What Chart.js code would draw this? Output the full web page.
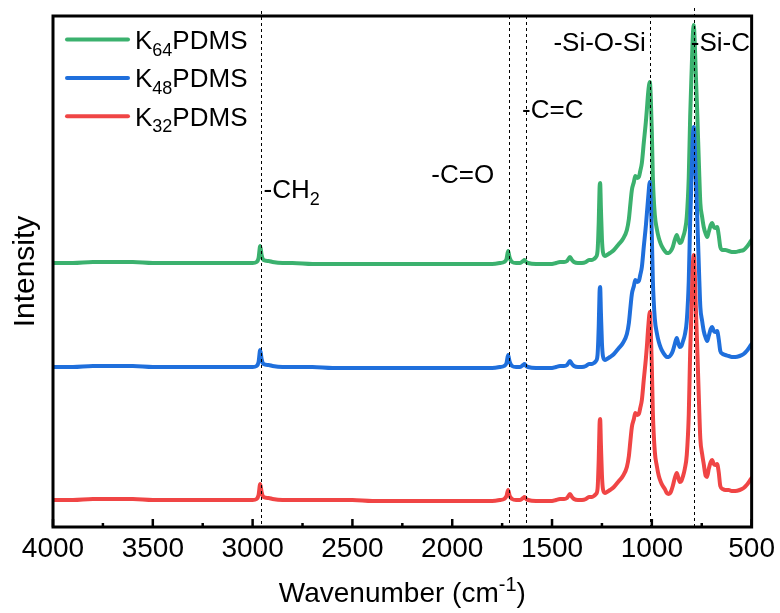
<!DOCTYPE html>
<html><head><meta charset="utf-8">
<script src="https://cdn.jsdelivr.net/npm/chart.js@4.4.1/dist/chart.umd.min.js"></script>
<style>html,body{margin:0;padding:0;background:#fff}#wrap{width:780px;height:613px}</style>
</head><body><div id="wrap"><canvas id="c" width="780" height="613"></canvas></div>
<script>
// ---- data (intensity in arbitrary units, offset spectra) ----
const wavenumbers = [
  4000,3900,3800,3700,3600,3500,3400,3300,3200,3100,
  3000,2980,2970,2962,2955,2945,2920,2900,2850,2800,
  2700,2600,2500,2400,2300,2200,2100,2000,1900,1800,
  1760,1740,1728,1720,1712,1700,1680,1660,1645,1638,
  1630,1620,1580,1550,1520,1500,1480,1460,1440,1425,
  1410,1400,1390,1370,1350,1330,1315,1300,1290,1280,
  1272,1266,1262,1259,1255,1250,1245,1235,1225,1210,
  1190,1165,1145,1125,1115,1107,1100,1090,1083,1072,
  1065,1058,1050,1040,1030,1025,1018,1010,1005,1000,
  995,985,975,965,955,945,935,925,915,905,
  895,885,875,868,860,852,845,835,825,815,
  808,800,795,790,785,780,773,762,757,748,
  740,730,723,715,705,698,690,682,673,665,
  657,645,632,615,600,582,560,540,525,507,
  500];
const k64 = [
  264,264,265,265,265,264,264,264,264,264,
  264,265,269,281,272,267,266,265,264,264,
  263,263,263,263,263,263,263,263,263,263,
  264,265,268,276,269,265,264,264,266,267,
  265,264,263,263,263,263,264,265,265,266,
  270,267,265,264,264,265,267,267,268,270,
  276,305,338,344,318,288,275,271,272,274,
  277,283,288,297,308,324,337,345,351,349,
  350,356,364,385,405,417,435,445,428,395,
  350,312,298,289,283,279,276,274,274,276,
  280,287,292,288,284,285,289,296,310,350,
  410,460,490,502,485,455,417,350,324,310,
  300,293,290,295,302,304,300,299,300,292,
  280,277,277,276,275,275,276,277,280,285,
  287];
const k48 = [
  160,160,161,161,161,160,160,160,160,160,
  160,161,165,177,168,163,162,161,160,160,
  160,159,159,159,159,159,159,159,159,159,
  160,161,164,172,165,161,160,160,162,163,
  161,160,159,159,159,159,160,161,161,162,
  166,163,161,160,160,161,163,163,164,166,
  172,201,234,240,214,184,171,167,168,170,
  173,179,184,193,204,220,233,241,247,245,
  246,252,260,281,301,313,330,345,326,292,
  247,208,194,185,179,175,172,170,170,172,
  176,183,189,184,180,181,185,192,206,246,
  306,356,388,400,383,351,313,246,220,206,
  196,189,186,191,198,200,196,195,196,188,
  176,173,172,171,170,170,171,173,176,181,
  183];
const k32 = [
  27,27,28,28,28,27,27,27,27,27,
  27,28,32,43,35,30,29,28,27,27,
  27,27,27,26,26,26,26,26,26,26,
  27,28,31,37,31,28,27,27,29,30,
  28,27,26,26,26,26,27,28,28,29,
  33,30,28,27,27,28,30,30,31,33,
  38,68,102,108,82,52,38,34,35,37,
  40,46,51,60,71,87,100,108,114,112,
  113,119,127,148,168,180,200,215,196,160,
  115,75,61,51,45,41,38,34,33,35,
  41,49,54,50,45,46,50,58,72,112,
  175,225,260,272,255,222,182,114,88,73,
  63,51,50,58,65,67,63,62,63,55,
  41,38,37,37,36,36,37,39,42,47,
  49];
const seriesNames = ['K64PDMS', 'K48PDMS', 'K32PDMS'];
const seriesLegend = ['K_{64}PDMS', 'K_{48}PDMS', 'K_{32}PDMS'];
const xTickValues = [4000, 3500, 3000, 2500, 2000, 1500, 1000, 500];
const xMinorTicks = [3750, 3250, 2750, 2250, 1750, 1250, 750];
const bandPositions = [2960, 1715, 1630, 1010, 790];
const bandLabels = ['-CH_{2}', '-C=O', '-C=C', '-Si-O-Si', '-Si-C'];
const xTitle = 'Wavenumber (cm^{-1})';
const yTitle = 'Intensity';

// ---- style ----
const FAM = "'Liberation Sans', Arial, Helvetica, sans-serif";
const COLORS = { green: '#3bb16e', blue: '#1f6fdc', red: '#f04545' };

function toXY(vals) { return wavenumbers.map((w, i) => ({ x: w, y: vals[i] })); }

function parseRich(s) {
  const parts = [];
  const re = /_\{([^}]*)\}|\^\{([^}]*)\}|([^_^]+)/g;
  let m;
  while ((m = re.exec(s))) {
    if (m[1] !== undefined) parts.push({ t: m[1], sub: true });
    else if (m[2] !== undefined) parts.push({ t: m[2], sup: true });
    else parts.push({ t: m[3] });
  }
  return parts;
}
function drawRich(ctx, s, x, y, align, size) {
  const parts = parseRich(s);
  const small = Math.round(size * 0.7);
  const widths = parts.map(p => { ctx.font = `${(p.sub || p.sup) ? small : size}px ${FAM}`; return ctx.measureText(p.t).width; });
  const total = widths.reduce((a, b) => a + b, 0);
  let cx = align === 'center' ? x - total / 2 : align === 'right' ? x - total : x;
  ctx.textAlign = 'left';
  ctx.textBaseline = 'alphabetic';
  parts.forEach((p, i) => {
    ctx.font = `${(p.sub || p.sup) ? small : size}px ${FAM}`;
    const dy = p.sub ? size * 0.25 : p.sup ? -size * 0.4 : 0;
    ctx.fillText(p.t, cx, y + dy);
    cx += widths[i];
  });
}

// label layout: [anchor side, dx from line, baseline y]
const bandLayout = [
  { align: 'left', dx: 3, y: 198, ext: 5 },
  { align: 'right', dx: -15, y: 183, ext: 0 },
  { align: 'left', dx: -4, y: 118, ext: 0 },
  { align: 'right', dx: -4, y: 51, ext: 1 },
  { align: 'left', dx: -3, y: 51, ext: 8 }
];

const decor = {
  id: 'decor',
  afterDatasetsDraw(chart) {
    const ctx = chart.ctx, a = chart.chartArea, xs = chart.scales.x;
    ctx.save();
    // dashed band lines
    ctx.strokeStyle = '#000'; ctx.lineWidth = 1; ctx.setLineDash([3, 3]);
    bandPositions.forEach((w, i) => {
      const x = Math.round(xs.getPixelForValue(w)) + 0.5;
      ctx.beginPath(); ctx.moveTo(x, a.top - bandLayout[i].ext); ctx.lineTo(x, a.bottom); ctx.stroke();
    });
    ctx.setLineDash([]);
    // band labels (clipped to plot area)
    ctx.save();
    ctx.beginPath(); ctx.rect(a.left, 0, a.right - a.left, a.bottom); ctx.clip();
    ctx.fillStyle = '#000';
    bandPositions.forEach((w, i) => {
      const L = bandLayout[i];
      drawRich(ctx, bandLabels[i], xs.getPixelForValue(w) + L.dx, L.y, L.align, 26);
    });
    ctx.restore();
    // ticks (inward)
    ctx.strokeStyle = '#000'; ctx.lineWidth = 2.5;
    xTickValues.forEach(v => { const x = xs.getPixelForValue(v); ctx.beginPath(); ctx.moveTo(x, a.bottom); ctx.lineTo(x, a.bottom - 8); ctx.stroke(); });
    xMinorTicks.forEach(v => { const x = xs.getPixelForValue(v); ctx.beginPath(); ctx.moveTo(x, a.bottom); ctx.lineTo(x, a.bottom - 4); ctx.stroke(); });
    // frame
    ctx.lineWidth = 3;
    ctx.strokeRect(a.left, a.top, a.right - a.left, a.bottom - a.top);
    // legend
    const legendColors = [COLORS.green, COLORS.blue, COLORS.red];
    seriesLegend.forEach((s, i) => {
      const y = 39.5 + i * 38.4;
      ctx.strokeStyle = legendColors[i]; ctx.lineWidth = 4; ctx.lineCap = 'round';
      ctx.beginPath(); ctx.moveTo(a.left + 14, y); ctx.lineTo(a.left + 75, y); ctx.stroke();
      ctx.fillStyle = '#000';
      drawRich(ctx, s, a.left + 82, y + 9.5, 'left', 26);
    });
    // axis titles
    ctx.fillStyle = '#000';
    drawRich(ctx, xTitle, (a.left + a.right) / 2, 602, 'center', 28);
    ctx.save();
    ctx.translate(34, (a.top + a.bottom) / 2);
    ctx.rotate(-Math.PI / 2);
    drawRich(ctx, yTitle, 0, 0, 'center', 30);
    ctx.restore();
    ctx.restore();
  }
};

new Chart(document.getElementById('c').getContext('2d'), {
  type: 'line',
  data: {
    datasets: [
      { label: seriesNames[2], data: toXY(k32), borderColor: COLORS.red },
      { label: seriesNames[1], data: toXY(k48), borderColor: COLORS.blue },
      { label: seriesNames[0], data: toXY(k64), borderColor: COLORS.green }
    ]
  },
  options: {
    responsive: false, animation: false, devicePixelRatio: 1,
    layout: { padding: { left: 53, right: 27, top: 16, bottom: 0 } },
    plugins: { legend: { display: false }, tooltip: { enabled: false } },
    elements: {
      point: { radius: 0 },
      line: { borderWidth: 4, cubicInterpolationMode: 'monotone', borderCapStyle: 'round', borderJoinStyle: 'round' }
    },
    scales: {
      x: {
        type: 'linear', reverse: true, min: 500, max: 4000,
        afterBuildTicks: s => { s.ticks = xTickValues.map(v => ({ value: v })); },
        afterFit: s => { s.height = 86; },
        grid: { display: false, drawTicks: false },
        border: { display: false },
        ticks: { font: { family: FAM, size: 28 }, color: '#000', padding: 5, maxRotation: 0, autoSkip: false,
                 callback: v => String(v) }
      },
      y: { display: false, min: 0, max: 511 }
    }
  },
  plugins: [decor]
});
</script>
</body></html>
